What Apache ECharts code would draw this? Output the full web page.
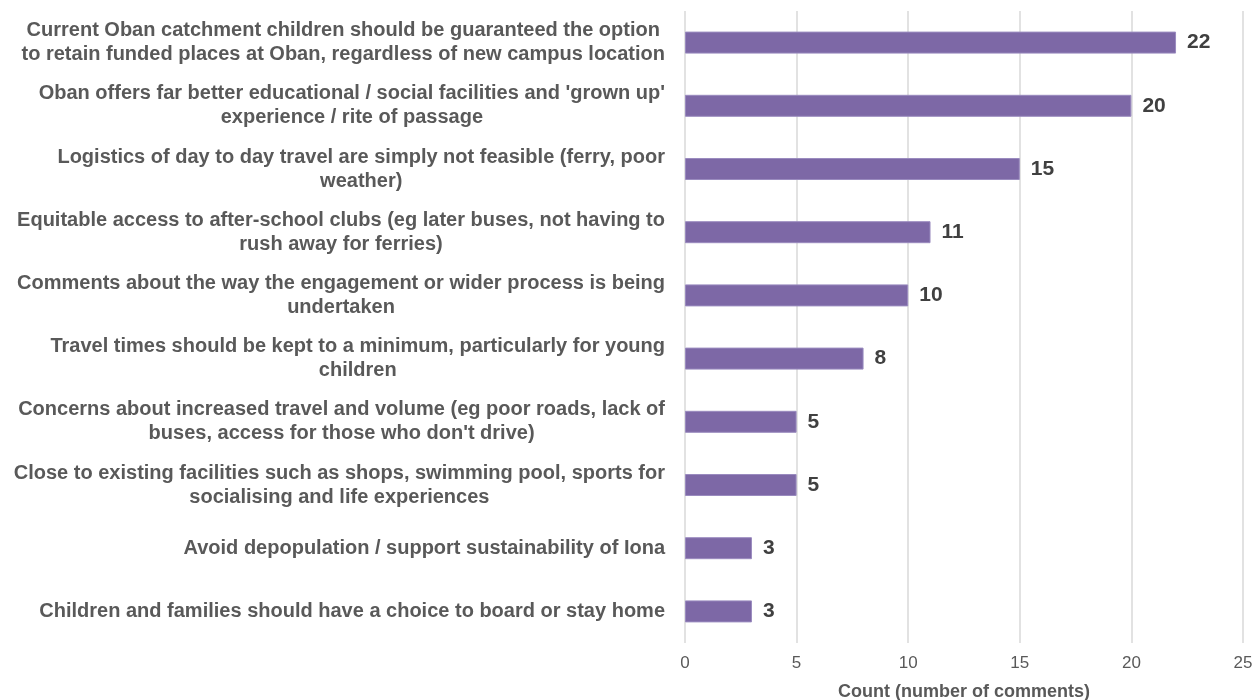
<!DOCTYPE html>
<html><head><meta charset="utf-8">
<script src="https://cdn.jsdelivr.net/npm/echarts@6/dist/echarts.min.js"></script>
<style>html,body{margin:0;padding:0;background:#fff}#c{width:1260px;height:700px}</style>
</head><body><div id="c"></div>
<script>
const categories = [
  "Current Oban catchment children should be guaranteed the option\nto retain funded places at Oban, regardless of new campus location",
  "Oban offers far better educational / social facilities and 'grown up'\nexperience / rite of passage",
  "Logistics of day to day travel are simply not feasible (ferry, poor\nweather)",
  "Equitable access to after-school clubs (eg later buses, not having to\nrush away for ferries)",
  "Comments about the way the engagement or wider process is being\nundertaken",
  "Travel times should be kept to a minimum, particularly for young\nchildren",
  "Concerns about increased travel and volume (eg poor roads, lack of\nbuses, access for those who don't drive)",
  "Close to existing facilities such as shops, swimming pool, sports for\nsocialising and life experiences",
  "Avoid depopulation / support sustainability of Iona",
  "Children and families should have a choice to board or stay home"
];
const counts = [22, 20, 15, 11, 10, 8, 5, 5, 3, 3];
const xTicks = [0, 5, 10, 15, 20, 25];
const xTitle = "Count (number of comments)";

const chart = echarts.init(document.getElementById('c'), null, {renderer: 'canvas'});
chart.setOption({
  animation: false,
  backgroundColor: '#ffffff',
  grid: {left: 685, right: 17, top: 11, bottom: 57, containLabel: false, outerBoundsMode: 'none'},
  xAxis: {
    type: 'value', min: xTicks[0], max: xTicks[xTicks.length - 1], interval: 5,
    name: xTitle, nameLocation: 'middle', nameGap: 40,
    nameTextStyle: {fontFamily: 'Liberation Sans', fontWeight: 'bold', fontSize: 18, color: '#595959'},
    axisLine: {show: false}, axisTick: {show: false},
    axisLabel: {fontFamily: 'Liberation Sans', fontSize: 17, color: '#595959', margin: 12},
    splitLine: {show: true, lineStyle: {color: '#d9d9d9', width: 1.5}}
  },
  yAxis: {
    type: 'category', inverse: true, data: categories,
    axisLine: {show: false}, axisTick: {show: false},
    axisLabel: {
      margin: 20, interval: 0,
      formatter: v => v.split('\n').map(l => '{c|' + l + '}').join('\n'),
      rich: {c: {align: 'center', fontFamily: 'Liberation Sans', fontWeight: 'bold', fontSize: 20, color: '#595959', lineHeight: 24}}
    }
  },
  series: [{
    type: 'bar', data: counts, barWidth: 22,
    itemStyle: {color: '#7d68a6', borderColor: '#9a8bbf', borderWidth: 1},
    label: {show: true, position: 'right', distance: 11, fontFamily: 'Liberation Sans', fontWeight: 'bold', fontSize: 21, color: '#404040'}
  }]
});
</script></body></html>
